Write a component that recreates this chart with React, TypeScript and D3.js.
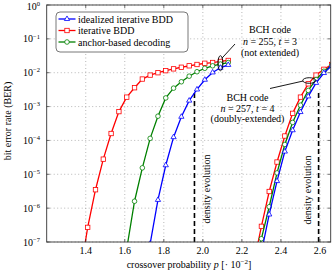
import React from 'react';
import * as d3 from 'd3';

// crossover probability p [·10^-2] and BER values
const idealP255 = [1.73, 1.77, 1.81, 1.85, 1.89, 1.93, 1.97, 2.01, 2.05, 2.09, 2.13];
const idealBer255 = [8.9e-8, 1.75e-6, 1.85e-5, 1.25e-4, 5.0e-4, 1.5e-3, 3.2e-3, 6.2e-3, 1.02e-2, 1.4e-2, 1.7e-2];
const iterP255 = [1.37, 1.41, 1.45, 1.49, 1.53, 1.57, 1.61, 1.65, 1.69, 1.73, 1.77, 1.81, 1.85, 1.89, 1.93, 1.97, 2.01, 2.05, 2.09, 2.13];
const iterBer255 = [1.0e-8, 2.7e-7, 3.5e-6, 2.8e-5, 1.6e-4, 7.1e-4, 1.9e-3, 3.6e-3, 6.5e-3, 8.5e-3, 1.0e-2, 1.15e-2, 1.3e-2, 1.45e-2, 1.6e-2, 1.75e-2, 1.9e-2, 2.0e-2, 2.15e-2, 2.3e-2];
const anchorP255 = [1.61, 1.65, 1.69, 1.73, 1.77, 1.81, 1.85, 1.89, 1.93, 1.97, 2.01, 2.05, 2.09, 2.13];
const anchorBer255 = [6.3e-8, 1.6e-6, 1.55e-5, 1.15e-4, 5.2e-4, 1.8e-3, 3.5e-3, 5.4e-3, 7.9e-3, 1.07e-2, 1.35e-2, 1.6e-2, 1.8e-2, 2.0e-2];

const idealP257 = [2.30, 2.34, 2.38, 2.42, 2.46, 2.50, 2.54, 2.58, 2.62, 2.66];
const idealBer257 = [5e-8, 6.5e-7, 6.3e-6, 4.7e-5, 2.0e-4, 6.9e-4, 2.0e-3, 5.0e-3, 9.8e-3, 1.6e-2];
const iterP257 = [2.26, 2.30, 2.34, 2.38, 2.42, 2.46, 2.50, 2.54, 2.58, 2.62, 2.66];
const iterBer257 = [2.2e-8, 2.9e-7, 3.1e-6, 2.3e-5, 1.35e-4, 6.3e-4, 1.9e-3, 4.7e-3, 8.5e-3, 1.26e-2, 1.75e-2];
const anchorP257 = [2.26, 2.30, 2.34, 2.38, 2.42, 2.46, 2.50, 2.54, 2.58, 2.62, 2.66];
const anchorBer257 = [1e-8, 1.25e-7, 1.1e-6, 1.1e-5, 7.6e-5, 3.4e-4, 1.1e-3, 3.0e-3, 6.3e-3, 1.1e-2, 1.65e-2];

const xTicks = [1.4, 1.6, 1.8, 2.0, 2.2, 2.4, 2.6];
const yTickExps = [0, -1, -2, -3, -4, -5, -6, -7];
const densityEvolution = [1.957, 2.593];
const densityTop = 10 ** -2.55;
const legendLabels = ['idealized iterative BDD', 'iterative BDD', 'anchor-based decoding'];
const seriesColors = ['#0000ff', '#ff0000', '#008000'];
const seriesMarkers = ['triangle', 'square', 'circle'];

const W = 332, H = 272;
const L = 46.7, R = 330.7, T = 5, B = 242;

const x = d3.scaleLinear().domain([1.2, 2.655]).range([L, R]);
const y = d3.scaleLog().domain([1e-7, 1]).range([B, T]);

function Marker({ kind, cx, cy, color }: { kind: string; cx: number; cy: number; color: string }) {
  if (kind === 'square') {
    return <rect x={cx - 2.2} y={cy - 2.2} width={4.4} height={4.4} fill="white" stroke={color} strokeWidth={0.8} />;
  }
  if (kind === 'circle') {
    return <circle cx={cx} cy={cy} r={2.3} fill="white" stroke={color} strokeWidth={0.8} />;
  }
  const s = d3.symbol().type(d3.symbolTriangle).size(12)();
  return <path d={s as string} transform={`translate(${cx},${cy})`} fill="white" stroke={color} strokeWidth={0.8} />;
}

function Curve({ ps, bers, idx }: { ps: number[]; bers: number[]; idx: number }) {
  const line = d3.line<number>().x((_, i) => x(ps[i])).y((_, i) => y(bers[i]));
  const color = seriesColors[idx];
  return (
    <g>
      <path d={line(bers) as string} fill="none" stroke={color} strokeWidth={1.3} />
      {bers.map((b, i) => (
        <Marker key={i} kind={seriesMarkers[idx]} cx={x(ps[i])} cy={y(b)} color={color} />
      ))}
    </g>
  );
}

export default function App() {
  const font = '"Liberation Serif", "Times New Roman", serif';
  const grid = '#999';
  return (
    <svg width={W} height={H} style={{ position: 'absolute', left: 0, top: 0, background: 'white' }} fontFamily={font}>
      <defs>
        <clipPath id="plotclip">
          <rect x={L} y={T} width={R - L} height={B - T} />
        </clipPath>
      </defs>
      <rect x={0} y={0} width={W} height={H} fill="white" />
      {/* grid */}
      {xTicks.map((t) => (
        <line key={'gx' + t} x1={x(t)} x2={x(t)} y1={T} y2={B} stroke={grid} strokeWidth={0.7} strokeDasharray="1,2.5" />
      ))}
      {yTickExps.map((e) => (
        <line key={'gy' + e} x1={L} x2={R} y1={y(10 ** e)} y2={y(10 ** e)} stroke={grid} strokeWidth={0.7} strokeDasharray="1,2.5" />
      ))}
      {/* density evolution */}
      {densityEvolution.map((p) => (
        <line key={'de' + p} x1={x(p)} x2={x(p)} y1={y(1e-7)} y2={y(densityTop)} stroke="black" strokeWidth={1.6} strokeDasharray="5,3" />
      ))}
      <text transform={`translate(${x(densityEvolution[0]) + 15.5},189) rotate(-90)`} fontSize={10} textAnchor="middle">density evolution</text>
      <text transform={`translate(${x(densityEvolution[1]) - 7.5},190) rotate(-90)`} fontSize={10} textAnchor="middle">density evolution</text>
      {/* curves */}
      <g clipPath="url(#plotclip)">
        <Curve ps={iterP255} bers={iterBer255} idx={1} />
        <Curve ps={anchorP255} bers={anchorBer255} idx={2} />
        <Curve ps={idealP255} bers={idealBer255} idx={0} />
        <Curve ps={iterP257} bers={iterBer257} idx={1} />
        <Curve ps={anchorP257} bers={anchorBer257} idx={2} />
        <Curve ps={idealP257} bers={idealBer257} idx={0} />
      </g>
      {/* annotations */}
      <ellipse cx={x(2.09)} cy={y(10 ** -1.72)} rx={2.5} ry={7.5} fill="none" stroke="black" strokeWidth={0.9} />
      <line x1={x(2.09) + 1.5} y1={y(10 ** -1.72) - 5} x2={235} y2={44} stroke="black" strokeWidth={0.9} />
      <text fontSize={10} textAnchor="middle">
        <tspan x={270} y={32.5}>BCH code</tspan>
        <tspan x={270} y={44.5}><tspan fontStyle="italic">n</tspan> = 255, <tspan fontStyle="italic">t</tspan> = 3</tspan>
        <tspan x={270} y={56}>(not extended)</tspan>
      </text>
      <ellipse cx={x(2.545)} cy={y(10 ** -2.23)} rx={6.5} ry={2.8} fill="none" stroke="black" strokeWidth={0.9} />
      <line x1={x(2.545) - 6} y1={y(10 ** -2.23) + 0.5} x2={270} y2={88.5} stroke="black" strokeWidth={0.9} />
      <text fontSize={10} textAnchor="middle">
        <tspan x={247.5} y={100.5}>BCH code</tspan>
        <tspan x={247.5} y={111.5}><tspan fontStyle="italic">n</tspan> = 257, <tspan fontStyle="italic">t</tspan> = 4</tspan>
        <tspan x={247.5} y={122}>(doubly-extended)</tspan>
      </text>
      {/* frame */}
      <rect x={L} y={T} width={R - L} height={B - T} fill="none" stroke="#333" strokeWidth={0.9} />
      {/* x ticks */}
      {xTicks.map((t) => (
        <g key={'xt' + t}>
          <line x1={x(t)} x2={x(t)} y1={B} y2={B - 3} stroke="#333" strokeWidth={0.7} />
          <line x1={x(t)} x2={x(t)} y1={T} y2={T + 3} stroke="#333" strokeWidth={0.7} />
          <text x={x(t)} y={254} fontSize={10} textAnchor="middle">{d3.format('.1f')(t)}</text>
        </g>
      ))}
      {/* y ticks */}
      {yTickExps.map((e) => (
        <g key={'yt' + e}>
          <line x1={L} x2={L + 3} y1={y(10 ** e)} y2={y(10 ** e)} stroke="#333" strokeWidth={0.7} />
          <line x1={R} x2={R - 3} y1={y(10 ** e)} y2={y(10 ** e)} stroke="#333" strokeWidth={0.7} />
          <text x={40} y={Math.max(y(10 ** e) + 3.5, 9.5)} fontSize={10} textAnchor="end">
            10<tspan fontSize={6.5} dy={-3.8}>{e === 0 ? '0' : '\u2212' + Math.abs(e)}</tspan>
          </text>
        </g>
      ))}
      {/* axis labels */}
      <text x={189} y={268} fontSize={10} textAnchor="middle">
        crossover probability <tspan fontStyle="italic">p</tspan> [· 10<tspan fontSize={7} dy={-4.5}>{'\u22122'}</tspan><tspan dy={4.5}>]</tspan>
      </text>
      <text transform={`translate(11,121) rotate(-90)`} fontSize={10} textAnchor="middle">bit error rate (BER)</text>
      {/* legend */}
      <rect x={56} y={12} width={132} height={40} rx={4} ry={4} fill="white" stroke="#555" strokeWidth={0.8} />
      {legendLabels.map((lab, i) => {
        const ly = [19, 30.5, 42][i];
        return (
          <g key={lab}>
            <line x1={58.5} x2={75.5} y1={ly} y2={ly} stroke={seriesColors[i]} strokeWidth={1.3} />
            <Marker kind={seriesMarkers[i]} cx={67} cy={ly} color={seriesColors[i]} />
            <text x={78} y={ly + 3.5} fontSize={10}>{lab}</text>
          </g>
        );
      })}
    </svg>
  );
}
